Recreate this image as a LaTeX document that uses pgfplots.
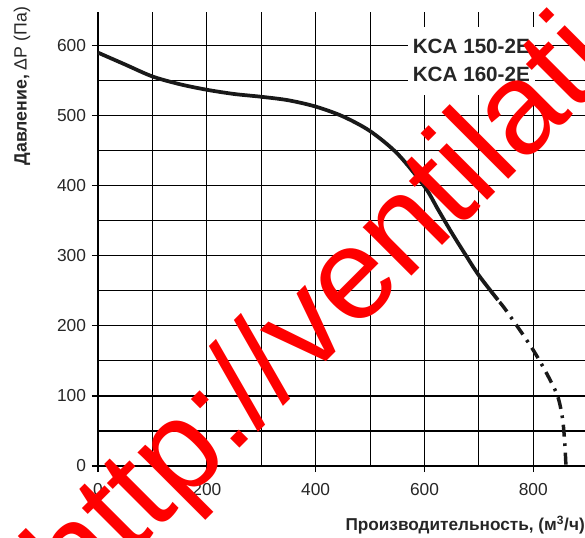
\documentclass[border=0pt]{standalone}
\usepackage{fontspec}
\setmainfont{Liberation Sans}
\usepackage{pgfplots}
\pgfplotsset{compat=1.18}
\begin{document}
\begin{tikzpicture}
\begin{axis}[
  scale only axis,
  width=365.25pt, height=340.5pt,
  xmin=0, xmax=895, ymin=0, ymax=648,
  axis lines*=left,
  axis line style={black, line width=0.9pt},
  clip=false,
  xtick={0,200,400,600,800},
  minor xtick={100,300,500,700},
  ytick={0,100,200,300,400,500,600},
  minor ytick={50,150,250,350,450,550},
  grid=both,
  major grid style={black, line width=0.85pt},
  minor grid style={black, line width=0.85pt},
  tick align=outside,
  major tick length=4.5pt,
  minor tick length=0pt,
  tick style={black, line width=0.9pt},
  /pgf/number format/assume math mode=true,
  ticklabel style={font=\fontsize{13}{15}\selectfont, text=black!85},
  xticklabel style={yshift=-5pt},
  yticklabel style={xshift=-1pt},
]
\addplot[black!90, line width=2.8pt, smooth] coordinates {
(0,590) (50,573) (100,556) (150,545) (200,537) (250,531) (300,527)
(350,522) (400,513) (450,499) (500,478) (550,446) (600,399) (625,366)
(650,333) (675,302) (700,272) (735,237)};
\addplot[black!90, line width=2.6pt, smooth, dash pattern=on 9pt off 5pt on 2pt off 5pt] coordinates {
(738,234) (751,221) (797,169) (826,130) (845,99) (854,66) (858,30) (860,0)};
\coordinate (o) at (axis cs:0,0);
\fill[white] (axis cs:569,530) rectangle (axis cs:803,626);
\node[anchor=west, inner sep=0pt, font=\fontsize{15.5}{18}\selectfont\bfseries, text=black!85] at (axis cs:578,598.6) {KCA 150-2E};
\node[anchor=west, inner sep=0pt, font=\fontsize{15.5}{18}\selectfont\bfseries, text=black!85] at (axis cs:578,558.6) {KCA 160-2E};
\node[rotate=90, inner sep=0pt, font=\fontsize{13.3}{15}\selectfont, text=black!85] at (axis cs:-139.6,542) {\textbf{Давление,} Δ{}P (Па)};
\node[anchor=east, inner sep=0pt, font=\fontsize{12.9}{15}\selectfont\bfseries, text=black!85] at (axis cs:895,-84.3) {Производительность, (м\textsuperscript{3}/ч)};
\node[anchor=base west, inner sep=0pt, rotate=45, text=red, font=\fontsize{97.5}{100}\selectfont] at (axis cs:-36.7,-205.7) {http://ventilation};
\end{axis}
\pgfresetboundingbox
\path[use as bounding box] (o) ++(-73.5pt,-53.25pt) rectangle ++(438.75pt,402.75pt);
\end{tikzpicture}
\end{document}
